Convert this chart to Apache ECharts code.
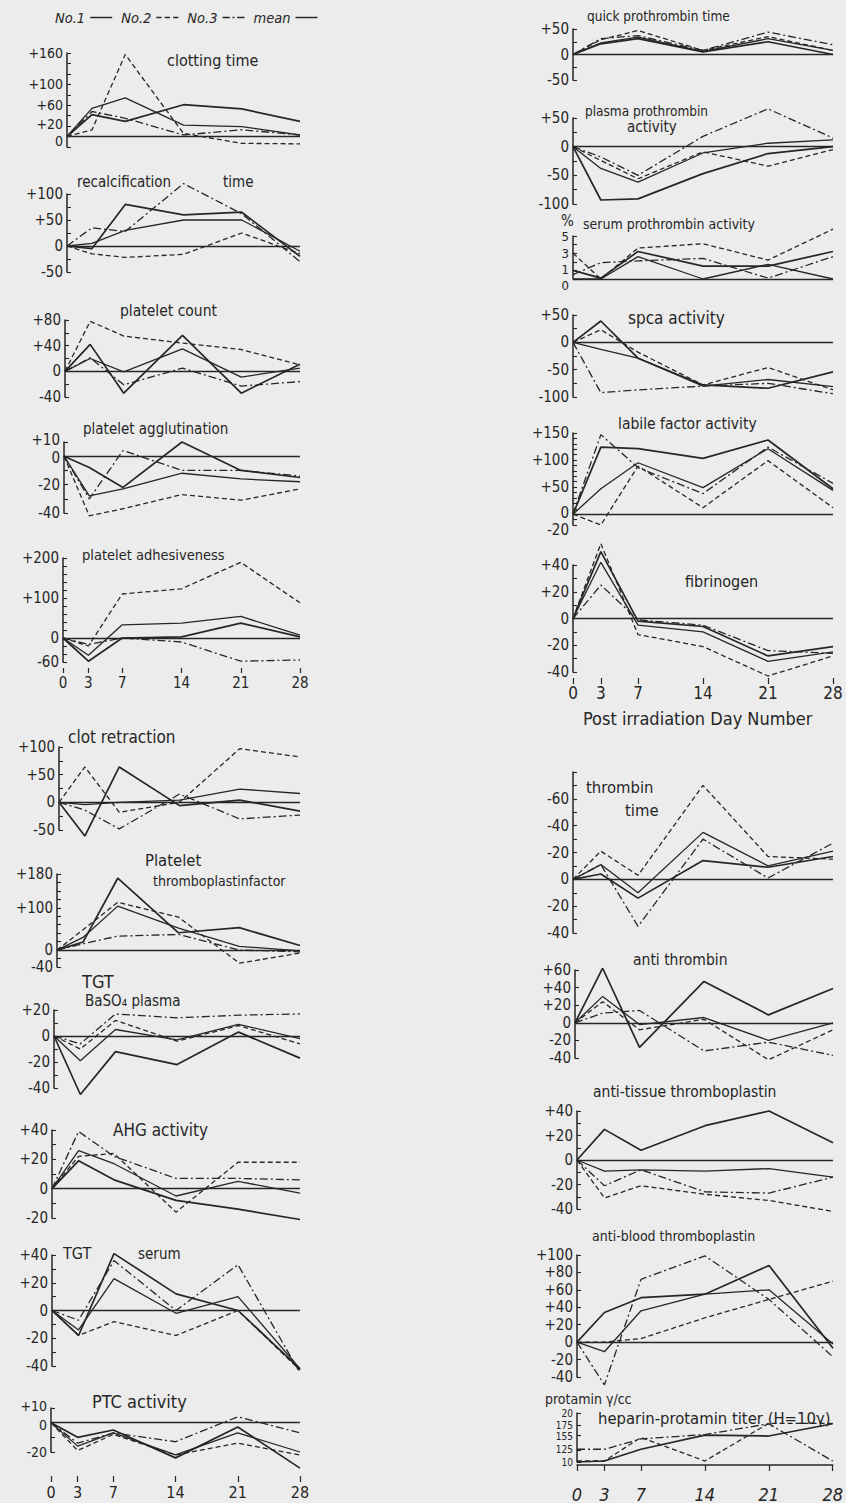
<!DOCTYPE html>
<html><head><meta charset="utf-8">
<script src="https://cdn.jsdelivr.net/npm/echarts@6/dist/echarts.min.js"></script>
<style>html,body{margin:0;padding:0;background:#ececec}#c{width:846px;height:1503px}</style>
</head><body><div id="c"></div>
<script>
// ---------- DATA ----------
const days = [0, 3, 7, 14, 21, 28];
const seriesNames = ['No.1', 'No.2', 'No.3', 'mean'];

// each panel: [No.1, No.2, No.3, mean]  (% change from day 0)
const clottingTime = [[0,42,29,61,53,29],[0,13,157,6,-13,-14],[0,48,35,3,13,3],[0,54,74,22,19,3]];
const recalcificationTime = [[0,-5,80,60,65,-20],[0,-15,-22,-16,25,-15],[0,35,28,120,62,-30],[0,5,30,50,50,-10]];
const plateletCount = [[0,42,-34,56,-34,11],[0,78,55,44,34,10],[0,21,-21,5,-23,-16],[0,20,-1,35,-9,5]];
const plateletAgglutination = [[0,-8,-22,10,-10,-15],[0,-42,-37,-27,-31,-23],[0,-30,4,-10,-10,-14],[0,-28,-23,-12,-16,-18]];
const plateletAdhesiveness = [[0,-58,0,3,37,3],[0,-20,110,123,189,88],[0,-16,0,-10,-58,-55],[0,-43,33,37,54,7]];
const clotRetraction = [[0,-61,64,-6,4,-16],[0,64,-18,0,97,82],[0,-14,-48,15,-30,-23],[0,-4,0,4,24,16]];
const plateletThromboplastin = [[0,19,170,41,53,11],[0,48,113,78,-31,-7],[0,15,33,37,0,-4],[0,30,104,52,9,-2]];
const tgtBaso4 = [[0,-45,-12,-22,3,-17],[0,-10,12,-4,8,-6],[0,-6,17,14,16,17],[0,-19,5,-3,9,-2]];
const ahgActivity = [[0,19,6,-8,-14,-21],[0,22,24,-16,18,18],[0,39,22,7,7,6],[0,26,17,-5,5,-3]];
const tgtSerum = [[0,-18,41,12,0,-42],[0,-18,-8,-18,0,-43],[0,-7,36,0,33,-45],[0,-14,23,-2,10,-42]];
const ptcActivity = [[0,-10,-5,-24,-3,-31],[0,-19,-8,-22,-14,-22],[0,-14,-7,-13,4,-7],[0,-16,-7,-22,-7,-20]];

const quickProthrombinTime = [[0,21,31,5,25,0],[0,29,47,8,35,8],[0,31,37,8,44,19],[0,23,34,6,31,8]];
const plasmaProthrombin = [[0,-93,-91,-47,-12,0],[0,-24,-56,-9,-34,-5],[0,-18,-50,18,66,15],[0,-38,-62,-11,6,12]];
const serumProthrombin = [[1,0.1,3.2,1.5,1.5,3.2],[3,0,3.6,4.1,2.2,5.8],[0.5,1.9,2.1,2.4,0.1,2.6],[0,0,2.6,0,1.7,0]];
const spcaActivity = [[0,39,-29,-78,-84,-54],[0,23,-18,-78,-46,-87],[0,-92,-87,-80,-75,-94],[0,-13,-29,-80,-68,-81]];
const labileFactor = [[0,124,121,103,137,47],[0,-20,89,12,99,12],[0,147,86,38,124,57],[0,47,95,49,121,44]];
const fibrinogen = [[0,50,-2,-6,-28,-21],[0,56,-12,-21,-43,-28],[0,25,-1,-5,-24,-26],[0,42,-5,-10,-32,-25]];
const thrombinTime = [[0,4,-14,14,9,17],[0,21,3,70,17,15],[0,11,-35,30,1,27],[0,11,-10,35,10,21]];
const antiThrombin = [[0,62,-28,47,9,39],[0,24,-8,4,-42,-8],[0,11,14,-32,-22,-37],[0,30,-2,6,-20,0]];
const antiTissue = [[0,25,8,28,40,14],[0,-31,-21,-28,-33,-42],[0,-21,-8,-26,-27,-14],[0,-9,-8,-9,-7,-14]];
const antiBlood = [[0,34,51,55,88,-7],[0,0,4,28,49,70],[0,-49,72,99,49,-17],[0,-11,36,55,60,-2]];
const heparinTiter = [[10,10.2,12.6,15.5,15.3,17.8],[10.2,10.2,15,10.2,17.9,17.9],[12.6,12.6,14.7,15.6,17.8,10.2],null];

// tick labels
const ticksClotting = [160,100,60,20,0];
const ticksRecalc = [100,50,0,-50];
const ticksPltCount = [80,40,0,-40];
const ticksAggl = [10,0,-20,-40];
const ticksAdhes = [200,100,0,-60];
const ticksClotRet = [100,50,0,-50];
const ticksPTF = [180,100,0,-40];
const ticksTgtB = [20,0,-20,-40];
const ticksAHG = [40,20,0,-20];
const ticksTgtS = [40,20,0,-20,-40];
const ticksPTC = [10,0,-20];
const ticksQuick = [50,0,-50];
const ticksPlasma = [50,0,-50,-100];
const ticksSerumP = [5,3,1,0];
const ticksSpca = [50,0,-50,-100];
const ticksLabile = [150,100,50,0,-20];
const ticksFib = [40,20,0,-20,-40];
const ticksThrombin = [60,40,20,0,-20,-40];
const ticksAntiThr = [60,40,20,0,-20,-40];
const ticksAntiTis = [40,20,0,-20,-40];
const ticksAntiBlood = [100,80,60,40,20,0,-20,-40];
const ticksHeparin = [10,12.5,15.5,17.5,20];
const ticksHeparinText = ['10','125','155','175','20'];

// ---------- LAYOUT ----------
const FONT = "'Liberation Sans Narrow','DejaVu Sans Condensed','Liberation Sans',sans-serif";
const INK = '#262626';
const sign = v => v > 0 ? '+' + v : (v < 0 ? '-' + Math.abs(v) : '0');
const negAll = v => v === 0 ? '0' : '-' + Math.abs(v);
const plain = v => String(v);

const panels = [
  {d: clottingTime, min:-20, max:160, iv:20, t:ticksClotting, l:67, top:53, bot:147, r:300, fs:14, sh:{0:4, 20:-2}},
  {d: recalcificationTime, min:-50, max:100, iv:25, t:ticksRecalc, l:67, top:194, bot:272, r:300},
  {d: plateletCount, min:-40, max:80, iv:20, t:ticksPltCount, l:65, top:320, bot:397, r:300},
  {d: plateletAgglutination, min:-40, max:10, iv:10, t:ticksAggl, l:64, top:442, bot:513, r:300, sh:{10:-2, 0:2}},
  {d: plateletAdhesiveness, min:-60, max:200, iv:20, t:ticksAdhes, l:63, top:558, bot:662, r:300, xl:{off:6, len:5, m:7, fs:15}},
  {d: clotRetraction, min:-50, max:100, iv:25, t:ticksClotRet, l:59, top:747, bot:830, r:300},
  {d: plateletThromboplastin, min:-40, max:180, iv:20, t:ticksPTF, l:57, top:874, bot:967, r:300},
  {d: tgtBaso4, min:-40, max:20, iv:10, t:ticksTgtB, l:54, top:1010, bot:1088, r:300},
  {d: ahgActivity, min:-20, max:40, iv:10, t:ticksAHG, l:52, top:1130, bot:1218, r:300},
  {d: tgtSerum, min:-40, max:40, iv:10, t:ticksTgtS, l:52, top:1255, bot:1366, r:300},
  {d: ptcActivity, min:-20, max:10, iv:10, t:ticksPTC, l:51, top:1408, bot:1452, r:300, fs:14, sh:{10:-2, 0:2}, xl:{off:24, len:6, m:8, fs:16}},
  {d: quickProthrombinTime, min:-50, max:50, iv:25, t:ticksQuick, l:573, top:29, bot:80, r:833},
  {d: plasmaProthrombin, min:-100, max:50, iv:25, t:ticksPlasma, l:573, top:118, bot:204, r:833},
  {d: serumProthrombin, min:0, max:5, iv:1, t:ticksSerumP, l:573, top:236, bot:279, r:833, fmt:plain, fs:13, sh:{0:6, 1:-1}},
  {d: spcaActivity, min:-100, max:50, iv:25, t:ticksSpca, l:573, top:315, bot:397, r:833},
  {d: labileFactor, min:-20, max:150, iv:10, t:ticksLabile, l:573, top:433, bot:525, r:833, sh:{'-20':5, 0:-1}},
  {d: fibrinogen, min:-40, max:40, iv:10, t:ticksFib, l:573, top:565, bot:672, r:833, xl:{off:6, len:6, m:6, fs:17}},
  {d: thrombinTime, min:-40, max:80, iv:10, t:ticksThrombin, l:573, top:772, bot:933, r:833, fmt:negAll},
  {d: antiThrombin, min:-40, max:60, iv:20, t:ticksAntiThr, l:575, top:970, bot:1058, r:833},
  {d: antiTissue, min:-40, max:40, iv:10, t:ticksAntiTis, l:577, top:1111, bot:1209, r:833},
  {d: antiBlood, min:-40, max:100, iv:20, t:ticksAntiBlood, l:577, top:1255, bot:1377, r:833},
  {d: heparinTiter, min:10, max:20, iv:null, t:ticksHeparin, tt:ticksHeparinText, l:577, top:1413, bot:1468, r:833, fs:10, lh:9, sh:{15.5:1.5}, xl:{off:3, len:6, m:20, fs:18, it:true}, base:10}
];

// [text, x, y(center), fontSize]
const titles = [
  ['clotting time',167,62,16],['recalcification',77,183,15],['time',223,183,15],['platelet count',120,312,15.5],
  ['platelet agglutination',83,430,15],['platelet adhesiveness',82,556,14.5],['clot retraction',68,739,17],
  ['Platelet',145,862,16.5],['thromboplastinfactor',153,882,14],['TGT',82,983,18],['BaSO₄ plasma',85,1002,15],
  ['AHG activity',113,1132,17],['TGT',63,1255,16],['serum',138,1255,15],['PTC activity',92,1403,18],
  ['quick prothrombin time',587,17,13.5],['plasma prothrombin',585,112,13.5],['activity',627,128,15],
  ['%',561,222,15],['serum prothrombin activity',583,225,14],['spca activity',628,320,17],
  ['labile factor activity',618,425,15.5],['fibrinogen',685,583,16],
  ['thrombin',586,789,16.5],['time',625,812,16.5],['anti thrombin',633,961,15.5],
  ['anti-tissue thromboplastin',593,1093,15.5],['anti-blood thromboplastin',592,1237,14],
  ['protamin γ/cc',545,1400,14],['heparin-protamin titer (H=10γ)',598,1420,16.5]
];

const lineStyles = [
  {type:'solid', width:1.7},
  {type:[5,3], width:1.3},
  {type:[8,3,2,3], width:1.3},
  {type:'solid', width:1.3}
];
const legendIcons = [
  'path://M0,0h24v1.6h-24z',
  'path://M0,0h5v1.6h-5zM8,0h5v1.6h-5zM16,0h5v1.6h-5z',
  'path://M0,0h8v1.6h-8zM11,0h2v1.6h-2zM16,0h8v1.6h-8z',
  'path://M0,0h24v1.6h-24z'
];

const grid = [], xAxis = [], yAxis = [], series = [];
panels.forEach((p, i) => {
  grid.push({left:p.l, top:p.top, width:p.r - p.l, height:p.bot - p.top, containLabel:false});
  const xl = p.xl;
  xAxis.push({
    type:'value', gridIndex:i, min:0, max:28, show: !!xl,
    offset: xl ? xl.off : 0,
    axisLine:{show: p.base === 10, onZero:false, lineStyle:{color:INK, width:1.5}},
    splitLine:{show:false},
    axisTick:{show:!!xl, customValues:days, length: xl ? xl.len : 4, lineStyle:{color:INK, width:1.2}},
    axisLabel:{show:!!xl, customValues:days, margin: xl ? xl.m : 4, fontFamily:FONT,
      fontSize: xl ? xl.fs : 15, fontStyle: xl && xl.it ? 'italic' : 'normal', color:INK,
      showMinLabel:true, showMaxLabel:true}
  });
  const fs = p.fs || 15;
  const sh = p.sh || {};
  const rich = {};
  Object.keys(sh).forEach((k, j) => {
    const px = sh[k];
    rich['s' + j] = {fontFamily:FONT, fontSize:fs, color:INK, lineHeight: p.lh || undefined,
      padding: px > 0 ? [2 * px, 0, 0, 0] : [0, 0, -2 * px, 0]};
  });
  const wrap = (v, txt) => {
    const keys = Object.keys(sh);
    const j = keys.findIndex(k => Math.abs(Number(k) - v) < 1e-9);
    return j >= 0 ? '{s' + j + '|' + txt + '}' : txt;
  };
  const ya = {
    type:'value', gridIndex:i, min:p.min, max:p.max,
    axisLine:{show:true, lineStyle:{color:INK, width:1.5}},
    splitLine:{show:false},
    axisTick:{show:true, inside:true, length:4, lineStyle:{color:INK, width:1.1}},
    axisLabel:{margin:4, fontFamily:FONT, fontSize:fs, color:INK, rich,
      showMinLabel:true, showMaxLabel:true, hideOverlap:false}
  };
  if (p.lh) ya.axisLabel.lineHeight = p.lh;
  if (p.iv) {
    ya.interval = p.iv;
    const f = p.fmt || sign;
    ya.axisLabel.formatter = v => p.t.some(t => Math.abs(t - v) < 1e-9) ? wrap(v, f(v)) : '';
  } else {
    ya.axisTick.customValues = p.t;
    ya.axisLabel.customValues = p.t;
    ya.axisLabel.formatter = v => {
      const k = p.t.findIndex(t => Math.abs(t - v) < 1e-9);
      return k >= 0 ? wrap(v, p.tt[k]) : '';
    };
  }
  yAxis.push(ya);
  const base = p.base !== undefined ? p.base : 0;
  p.d.forEach((vals, s) => {
    if (!vals) return;
    const ser = {
      name: seriesNames[s], type:'line', xAxisIndex:i, yAxisIndex:i,
      data: days.map((dd, k) => [dd, vals[k]]),
      symbol:'none', silent:true, clip:false,
      lineStyle:{color:INK, width:lineStyles[s].width, type:lineStyles[s].type},
      itemStyle:{color:INK}
    };
    if (s === 0 && base === 0) {
      ser.markLine = {silent:true, symbol:'none', label:{show:false},
        lineStyle:{color:INK, type:'solid', width:1.3}, data:[{yAxis:0}]};
    }
    series.push(ser);
  });
});

const graphic = titles.map(([txt, x, y, f]) => ({
  type:'text', left:x, top:y - f * 0.6,
  style:{text:txt, font:f + "px " + FONT, fill:INK}
}));
graphic.push({type:'text', left:583, top:709, style:{text:'Post irradiation Day Number', font:"18px " + FONT, fill:INK}});

const chart = echarts.init(document.getElementById('c'), null, {renderer:'svg'});
chart.setOption({
  animation:false,
  backgroundColor:'#ececec',
  legend:{
    data: seriesNames.map((n, k) => ({name:n, icon:legendIcons[k]})),
    left:50, top:5, align:'right', itemWidth:22, itemHeight:8, itemGap:9,
    symbolKeepAspect:true,
    textStyle:{fontFamily:FONT, fontSize:14.5, fontStyle:'italic', color:INK},
    itemStyle:{color:INK, borderWidth:0},
    selectedMode:false
  },
  grid, xAxis, yAxis, series, graphic
});
</script></body></html>
